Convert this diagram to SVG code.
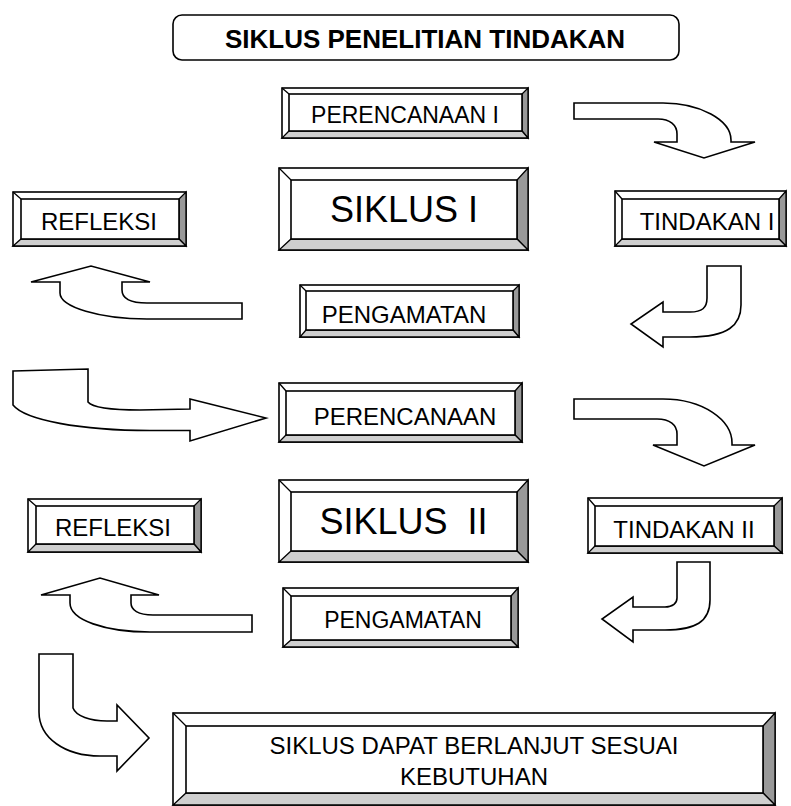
<svg xmlns="http://www.w3.org/2000/svg" width="791" height="806" viewBox="0 0 791 806">
<style>
.o{fill:#fff;stroke:#000;stroke-width:1.6}
.r{fill:#999;stroke:#000;stroke-width:1.3}
.b{fill:#cfcfcf;stroke:#000;stroke-width:1.3}
.i{fill:#fff;stroke:#000;stroke-width:1.6}
.d{stroke:#000;stroke-width:1.3}
.t{font-family:"Liberation Sans",Arial,sans-serif;font-size:24px;fill:#000;text-anchor:middle}
.big{font-size:36px}
.ar{fill:#fff;stroke:#000;stroke-width:1.6;stroke-linejoin:miter}
</style>
<rect width="791" height="806" fill="#fff"/>
<g id="title">
<rect x="173" y="15" width="506" height="45" rx="9" fill="#fff" stroke="#000" stroke-width="1.6"/>
<text class="t" x="425" y="48" style="font-weight:bold;font-size:26px">SIKLUS PENELITIAN TINDAKAN</text>
</g>
<g id="perencanaan1">
<rect class="o" x="282" y="88" width="246" height="50"/>
<polygon class="r" points="528,88 528,138 522,131 522,94"/>
<polygon class="b" points="282,138 528,138 522,131 289,131"/>
<rect class="i" x="289" y="94" width="233" height="37"/>
<line class="d" x1="282" y1="88" x2="289" y2="94"/>
<text class="t" x="405" y="123" style="font-size:23px">PERENCANAAN I</text>
</g>
<g id="siklus1">
<rect class="o" x="279" y="168" width="249" height="82"/>
<polygon class="r" points="528,168 528,250 517,239 517,180"/>
<polygon class="b" points="279,250 528,250 517,239 291,239"/>
<rect class="i" x="291" y="180" width="226" height="59"/>
<line class="d" x1="279" y1="168" x2="291" y2="180"/>
<text class="t big" x="404" y="222">SIKLUS I</text>
</g>
<g id="refleksi1">
<rect class="o" x="13" y="192" width="173" height="54"/>
<polygon class="r" points="186,192 186,246 179,239 179,199"/>
<polygon class="b" points="13,246 186,246 179,239 21,239"/>
<rect class="i" x="21" y="199" width="158" height="40"/>
<line class="d" x1="13" y1="192" x2="21" y2="199"/>
<text class="t" x="99" y="230">REFLEKSI</text>
</g>
<g id="tindakan1">
<rect class="o" x="615" y="191" width="171" height="55"/>
<polygon class="r" points="786,191 786,246 779,239 779,199"/>
<polygon class="b" points="615,246 786,246 779,239 622,239"/>
<rect class="i" x="622" y="199" width="157" height="40"/>
<line class="d" x1="615" y1="191" x2="622" y2="199"/>
<text class="t" x="707" y="230">TINDAKAN I</text>
</g>
<g id="pengamatan1">
<rect class="o" x="300" y="285" width="219" height="52"/>
<polygon class="r" points="519,285 519,337 513,330 513,291"/>
<polygon class="b" points="300,337 519,337 513,330 306,330"/>
<rect class="i" x="306" y="291" width="207" height="39"/>
<line class="d" x1="300" y1="285" x2="306" y2="291"/>
<text class="t" x="404" y="323">PENGAMATAN</text>
</g>
<g id="perencanaan2">
<rect class="o" x="279" y="383" width="243" height="59"/>
<polygon class="r" points="522,383 522,442 515,435 515,391"/>
<polygon class="b" points="279,442 522,442 515,435 286,435"/>
<rect class="i" x="286" y="391" width="229" height="44"/>
<line class="d" x1="279" y1="383" x2="286" y2="391"/>
<text class="t" x="405" y="425">PERENCANAAN</text>
</g>
<g id="refleksi2">
<rect class="o" x="28" y="499" width="173" height="53"/>
<polygon class="r" points="201,499 201,552 194,544 194,506"/>
<polygon class="b" points="28,552 201,552 194,544 36,544"/>
<rect class="i" x="36" y="506" width="158" height="38"/>
<line class="d" x1="28" y1="499" x2="36" y2="506"/>
<text class="t" x="113" y="536">REFLEKSI</text>
</g>
<g id="siklus2">
<rect class="o" x="279" y="480" width="249" height="82"/>
<polygon class="r" points="528,480 528,562 517,551 517,492"/>
<polygon class="b" points="279,562 528,562 517,551 291,551"/>
<rect class="i" x="291" y="492" width="226" height="59"/>
<line class="d" x1="279" y1="480" x2="291" y2="492"/>
<text class="t big" x="403.5" y="534" xml:space="preserve">SIKLUS  II</text>
</g>
<g id="tindakan2">
<rect class="o" x="588" y="498" width="194" height="55"/>
<polygon class="r" points="782,498 782,553 774,546 774,506"/>
<polygon class="b" points="588,553 782,553 774,546 595,546"/>
<rect class="i" x="595" y="506" width="179" height="40"/>
<line class="d" x1="588" y1="498" x2="595" y2="506"/>
<text class="t" x="684" y="538">TINDAKAN II</text>
</g>
<g id="pengamatan2">
<rect class="o" x="283" y="588" width="235" height="59"/>
<polygon class="r" points="518,588 518,647 511,640 511,596"/>
<polygon class="b" points="283,647 518,647 511,640 291,640"/>
<rect class="i" x="291" y="596" width="220" height="44"/>
<line class="d" x1="283" y1="588" x2="291" y2="596"/>
<text class="t" x="403" y="628" style="font-size:23px">PENGAMATAN</text>
</g>
<g id="lanjut">
<rect class="o" x="173" y="713" width="602" height="92"/>
<polygon class="r" points="775,713 775,805 763,793 763,726"/>
<polygon class="b" points="173,805 775,805 763,793 186,793"/>
<rect class="i" x="186" y="726" width="577" height="67"/>
<line class="d" x1="173" y1="713" x2="186" y2="726"/>
<text class="t" x="474" y="754">SIKLUS DAPAT BERLANJUT SESUAI</text>
<text class="t" x="474" y="785">KEBUTUHAN</text>
</g>
<g id="connectors">
<path class="ar" d="M 574,103 L 663,103 C 700,103 731,120 731,140 L 731,142 L 755,142 L 704,158 L 654,142 L 677,142 L 677,134 C 677,125 670,119 658,119 L 574,119 Z"/>
<path class="ar" d="M 707,266 L 741,266 L 741,305 C 741,325 728,337 690,337 L 663,337 L 663,347 L 631,324 L 663,302 L 663,312 L 690,312 C 702,312 707,308 707,298 Z"/>
<path class="ar" d="M 242,303 L 147,303 C 130,303 122,298 122,290 L 122,282 L 150,282 L 91,266 L 31,282 L 60,282 L 60,293 C 60,307 100,319 147,319 L 242,319 Z"/>
<path class="ar" d="M 13,371 L 88,369 L 88,402 C 92,407 110,410 140,410 L 190,409 L 190,399 L 266,418 L 190,441 L 190,430.5 L 150,430.5 C 80,430.5 25,420 13,405 Z"/>
<path class="ar" d="M 574,399 L 663,399 C 703,399 732,420 732,443 L 732,445 L 755,445 L 704,466 L 653,445 L 677,445 L 677,434 C 677,425 670,419 657,419 L 574,419 Z"/>
<path class="ar" d="M 677,562 L 710,562 L 710,600 C 710,622 695,630 665,630 L 633,630 L 633,642 L 602,619 L 633,597 L 633,607 L 665,607 C 673,607 677,603 677,598 Z"/>
<path class="ar" d="M 252,615 L 153,615 C 138,615 131,610 131,603 L 131,595 L 159,595 L 100,578 L 41,595 L 70,595 L 70,603 C 70,620 105,632 150,632 L 252,632 Z"/>
<path class="ar" d="M 39,654 L 73,654 L 73,708 C 76,716 90,721 107,721 L 117,721 L 117,705 L 149,738 L 117,771 L 117,756 L 100,756 C 65,756 39,738 39,712 Z"/>
</g>
</svg>
